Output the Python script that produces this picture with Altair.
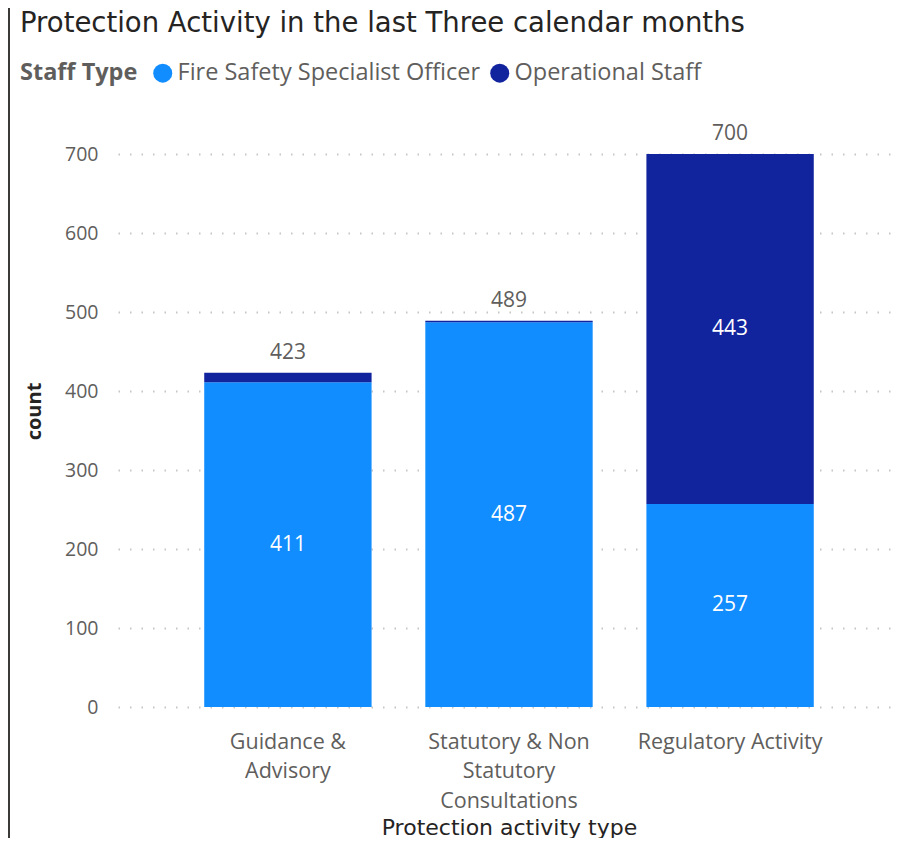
import json
import altair as alt
import pandas as pd

# ---- data ----
categories = ["Guidance & Advisory", "Statutory & Non Statutory Consultations", "Regulatory Activity"]
category_lines = [["Guidance &", "Advisory"], ["Statutory & Non", "Statutory", "Consultations"], ["Regulatory Activity"]]
staff_types = ["Fire Safety Specialist Officer", "Operational Staff"]
fire_safety = [411, 487, 257]
operational = [12, 2, 443]
totals = [423, 489, 700]
colors = ["#118DFF", "#12239E"]
y_ticks = [0, 100, 200, 300, 400, 500, 600, 700]

rows = []
for i, c in enumerate(categories):
    rows.append({"category": c, "staff": staff_types[0], "value": fire_safety[i], "ord": 0})
    rows.append({"category": c, "staff": staff_types[1], "value": operational[i], "ord": 1})
df = pd.DataFrame(rows)
tot = pd.DataFrame({"category": categories, "total": totals})

label_expr = ""
for c, lines in zip(categories, category_lines):
    label_expr += f"datum.label == {json.dumps(c)} ? {json.dumps(lines)} : "
label_expr += "datum.label"

LABEL_FONT = "Open Sans"
TITLE_FONT = "DejaVu Sans"
GRAY = "#605E5C"
DARK = "#252423"

W, H = 782, 553
PAD_L, PAD_T, PAD_R, PAD_B = 110, 146, 1, 131

x_axis = alt.Axis(
    title="Protection activity type",
    labelExpr=label_expr,
    labelAngle=0,
    labelFont=LABEL_FONT,
    labelFontSize=21.5,
    labelColor=GRAY,
    labelLineHeight=29.5,
    labelPadding=24,
    labelBaseline="top",
    labelLimit=0,
    ticks=False,
    domain=False,
    titleFont=TITLE_FONT,
    titleFontSize=22,
    titleFontWeight="normal",
    titleColor=DARK,
    titlePadding=6,
)
x_scale = alt.Scale(paddingInner=0.243, paddingOuter=0.39)

y_axis = alt.Axis(
    title="count",
    values=y_ticks,
    labelFont=LABEL_FONT,
    labelFontSize=19.5,
    labelColor=GRAY,
    labelPadding=20,
    ticks=False,
    domain=False,
    grid=True,
    gridColor="#C8C6C4",
    gridDash=[1.5, 10],
    gridWidth=2,
    titleFont=LABEL_FONT,
    titleFontSize=20,
    titleFontWeight="bold",
    titleColor=DARK,
    titlePadding=20,
    titleY=257,
)
y_scale = alt.Scale(domain=[0, 700], nice=False)

bars = alt.Chart(df).mark_bar().encode(
    x=alt.X("category:N", sort=categories, scale=x_scale, axis=x_axis),
    y=alt.Y("value:Q", stack="zero", scale=y_scale, axis=y_axis),
    color=alt.Color(
        "staff:N",
        scale=alt.Scale(domain=staff_types, range=colors),
        legend=alt.Legend(
            title="Staff Type",
            orient="none",
            legendX=-98,
            legendY=-93,
            direction="horizontal",
            titleOrient="left",
            titleFont=LABEL_FONT,
            titleFontSize=23.5,
            titleFontWeight="bold",
            titleColor=GRAY,
            titlePadding=13,
            labelFont=LABEL_FONT,
            labelFontSize=23.5,
            labelColor=GRAY,
            labelOffset=3,
            labelLimit=0,
            symbolType="circle",
            symbolSize=361,
            symbolStrokeWidth=0,
            columnPadding=7,
        ),
    ),
    order=alt.Order("ord:Q", sort="ascending"),
)

inside = (
    alt.Chart(df)
    .transform_stack(stack="value", groupby=["category"], as_=["v0", "v1"], sort=[alt.SortField("ord", order="ascending")])
    .transform_calculate(mid="(datum.v0 + datum.v1) / 2")
    .transform_filter("datum.value >= 50")
    .mark_text(color="white", font=LABEL_FONT, fontSize=21, baseline="middle")
    .encode(
        x=alt.X("category:N", sort=categories, scale=x_scale, axis=x_axis),
        y=alt.Y("mid:Q", scale=y_scale, axis=y_axis),
        text=alt.Text("value:Q"),
    )
)

top_labels = (
    alt.Chart(tot)
    .mark_text(color=GRAY, font=LABEL_FONT, fontSize=21, baseline="middle", dy=-20)
    .encode(
        x=alt.X("category:N", sort=categories, scale=x_scale, axis=x_axis),
        y=alt.Y("total:Q", scale=y_scale, axis=y_axis),
        text=alt.Text("total:Q"),
    )
)

frame_left = alt.Chart(tot).mark_rule(color="#3B3A39", strokeWidth=2).encode(
    x=alt.value(-PAD_L + 1), y=alt.value(-PAD_T), y2=alt.value(H + PAD_B)
)

chart = (
    alt.layer(bars, inside, top_labels, frame_left)
    .properties(
        width=W,
        height=H,
        padding={"left": PAD_L, "top": PAD_T, "right": PAD_R, "bottom": PAD_B},
        autosize=alt.AutoSizeParams(type="none"),
        title=alt.TitleParams(
            "Protection Activity in the last Three calendar months",
            anchor="start",
            frame="group",
            dx=-98,
            offset=-30,
            font=TITLE_FONT,
            fontSize=27.5,
            fontWeight="normal",
            color=DARK,
        ),
    )
    .configure(background="white")
    .configure_view(stroke="transparent", strokeWidth=0)
)

chart.save("out.html", embed_options={"renderer": "svg", "actions": False})
